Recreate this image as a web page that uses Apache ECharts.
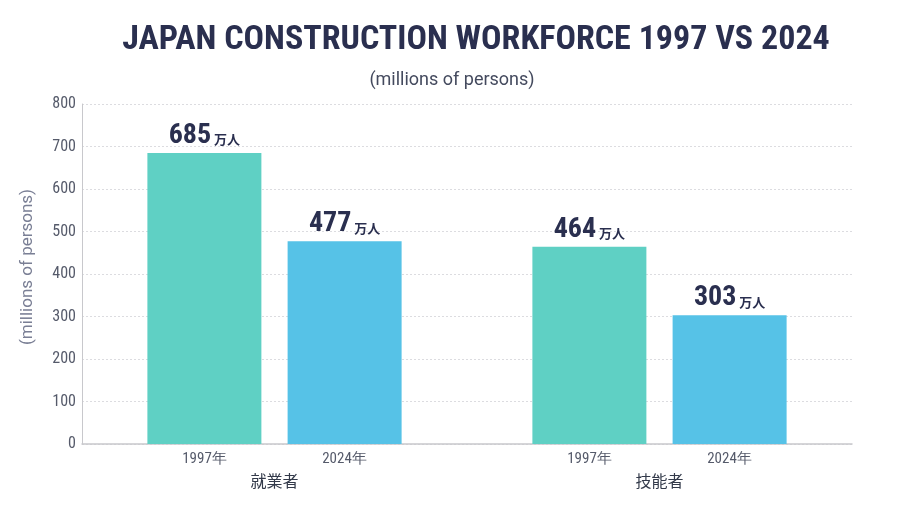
<!DOCTYPE html>
<html><head><meta charset="utf-8">
<script src="https://cdn.jsdelivr.net/npm/echarts@6/dist/echarts.min.js"></script>
<style>html,body{margin:0;padding:0;background:#fff}#c{width:900px;height:506px}</style>
</head><body><div id="c"></div>
<script>
const titleText = 'JAPAN CONSTRUCTION WORKFORCE 1997 VS 2024';
const subtitleText = '(millions of persons)';
const yAxisName = '(millions of persons)';
const groups = ['就業者', '技能者'];
const years = ['1997年', '2024年'];
const values1997 = [685, 464];
const values2024 = [477, 303];
const unitText = '万人';

const COND = '"Roboto Condensed","Open Sans Condensed",sans-serif';
const chart = echarts.init(document.getElementById('c'));
const valueLabel = {
  show: true, position: 'top', distance: 3,
  formatter: p => '{n|' + p.value + '}{u| ' + unitText + '}',
  rich: {
    n: { fontFamily: COND, fontWeight: 'bold', fontSize: 28, color: '#2a2f4f' },
    u: { fontFamily: '"Noto Sans CJK JP",sans-serif', fontWeight: 'bold', fontSize: 13, color: '#2a2f4f', padding: [7, 0, 0, 0] }
  }
};
chart.setOption({
  backgroundColor: '#ffffff',
  title: [{
    text: titleText, left: 471, top: 18, textAlign: 'center',
    textStyle: { fontFamily: COND, fontWeight: 'bold', fontSize: 34, color: '#2a2f4f' }
  }, {
    text: subtitleText, left: 447, top: 66, textAlign: 'center',
    textStyle: { fontFamily: '"Roboto",sans-serif', fontWeight: 'normal', fontSize: 18, color: '#444a5e' }
  }],
  grid: { left: 82, right: 48, top: 104, bottom: 62 },
  xAxis: {
    type: 'category', data: groups,
    axisLine: { lineStyle: { color: '#c8c8cc', width: 1.5 } },
    axisTick: { show: false },
    axisLabel: {
      margin: 6, interval: 0,
      formatter: v => '{y|' + years[0] + '}{g|}{y|' + years[1] + '}\n{n|' + v + '}',
      rich: {
        y: { width: 114, align: 'center', fontFamily: COND, fontSize: 15, color: '#555a6a', lineHeight: 18 },
        g: { width: 26 },
        n: { fontFamily: '"Noto Sans CJK JP",sans-serif', fontSize: 16, color: '#333a4a', lineHeight: 24, padding: [2, 0, 0, 0] }
      }
    }
  },
  yAxis: {
    type: 'value', min: 0, max: 800, interval: 100,
    name: yAxisName, nameLocation: 'middle', nameGap: 46, nameRotate: 90,
    nameTextStyle: { fontFamily: '"Roboto",sans-serif', fontSize: 17, color: '#7a7f95', padding: [0, 0, 0, 14] },
    axisLine: { show: true, lineStyle: { color: '#c8c8cc', width: 1 } },
    axisTick: { show: false },
    axisLabel: { fontFamily: COND, fontSize: 16, color: '#555a6a', margin: 6 },
    splitLine: { lineStyle: { color: '#dcdce0', type: [2, 2], width: 1 } }
  },
  series: [{
    name: years[0], type: 'bar', data: values1997, barWidth: 114, barGap: '23%',
    itemStyle: { color: '#5fd0c4' }, label: valueLabel
  }, {
    name: years[1], type: 'bar', data: values2024, barWidth: 114,
    itemStyle: { color: '#56c2e7' }, label: valueLabel
  }]
});
</script></body></html>
